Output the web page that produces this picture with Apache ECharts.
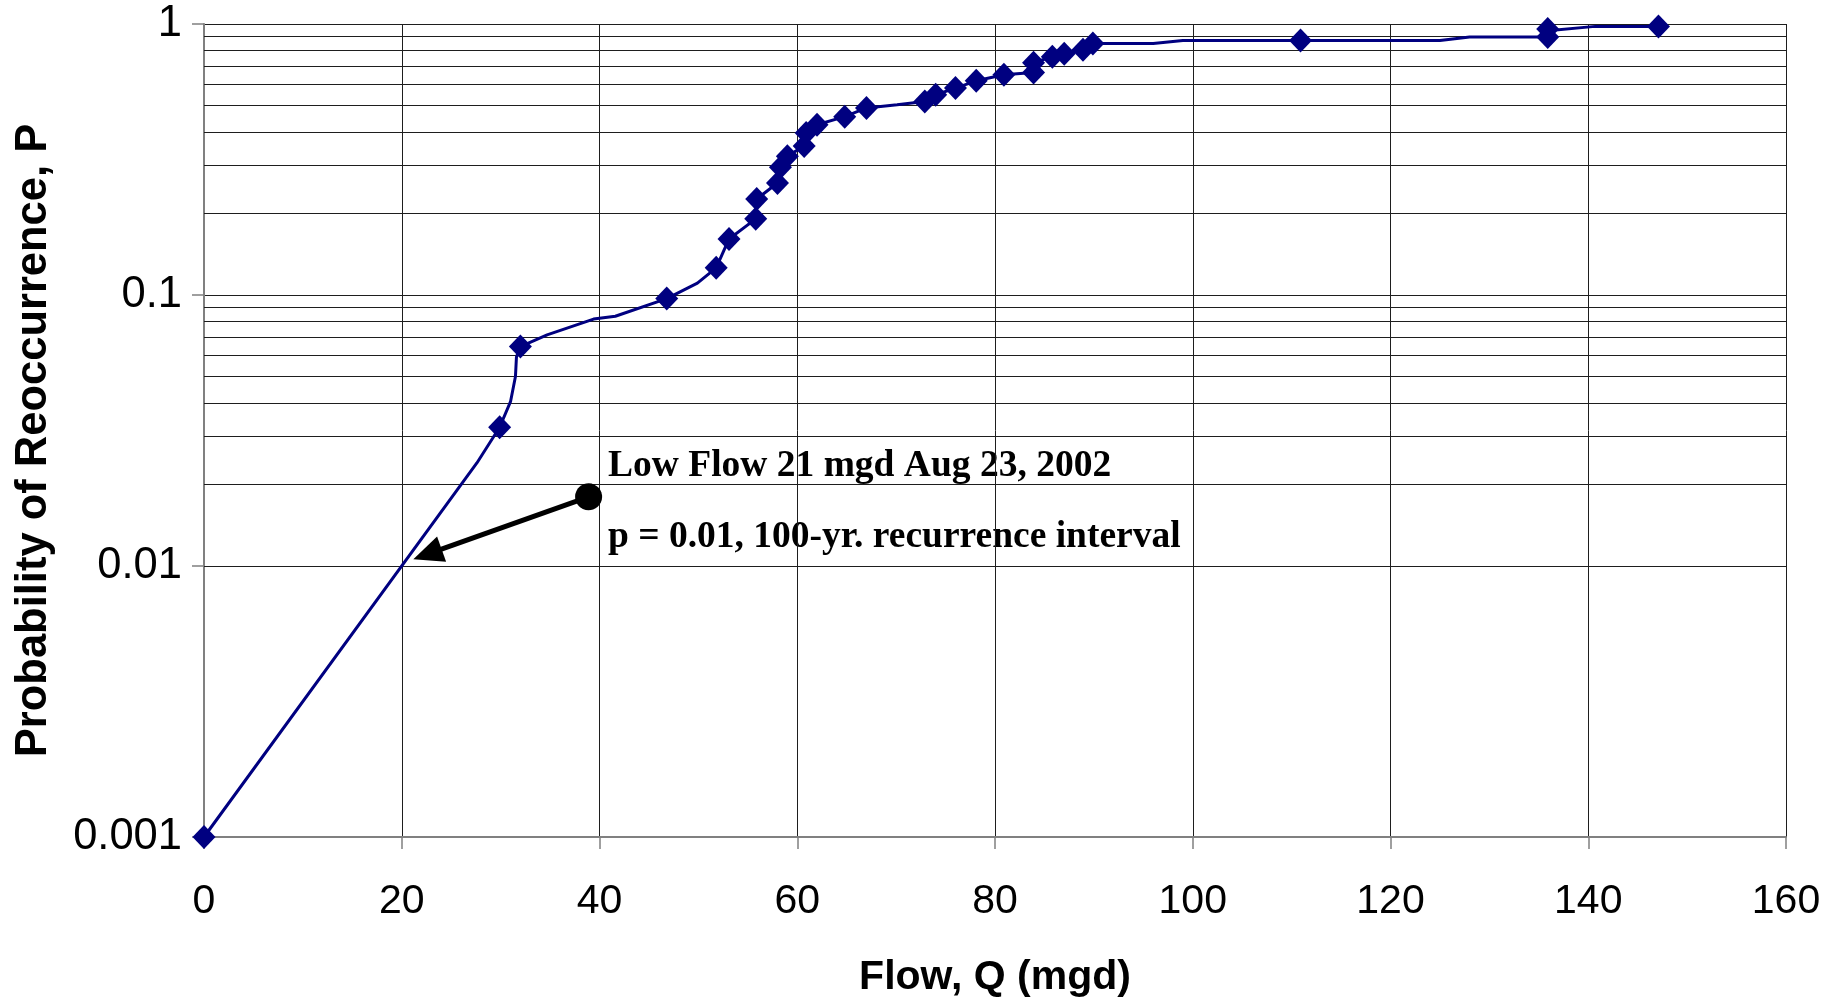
<!DOCTYPE html>
<html>
<head>
<meta charset="utf-8">
<title>Probability of Reoccurrence vs Flow</title>
<script src="https://cdn.jsdelivr.net/npm/echarts@6.0.0/dist/echarts.min.js"></script>
<style>
    html, body { margin: 0; padding: 0; background: #fff; }
    #chart { width: 1835px; height: 1003px; }
</style>
</head>
<body>
<div id="chart"></div>
<script>
// observed flows (mgd) and their probability of reoccurrence
const flowQ = [0, 29.9, 32, 46.8, 51.8, 53.1, 55.8, 55.9, 58, 58.3, 59, 60.7, 60.9, 62, 64.8, 67,
    72.9, 74, 76, 78.1, 80.9, 83.9, 83.9, 85.8, 87, 88.9, 89.9, 110.9, 135.9, 135.9, 147.1];
const probP = [0.001, 0.0325, 0.0645, 0.097, 0.126, 0.161, 0.191, 0.226, 0.259, 0.296, 0.325, 0.355,
    0.396, 0.425, 0.455, 0.49, 0.518, 0.548, 0.58, 0.617, 0.65, 0.662, 0.72, 0.757, 0.776, 0.804,
    0.848, 0.87, 0.895, 0.958, 0.98];

// the drawn curve (its own vertices)
const curveQ = [0, 27.6, 29.9, 31.0, 31.5, 31.6, 32, 34.7, 39.4, 41.6, 46.8, 49.9, 51.8, 53.1, 55.8,
    55.9, 58, 58.3, 59, 60.7, 60.9, 62, 64.8, 67, 70.1, 72.9, 74, 76, 78.1, 80.9, 83.9, 83.9, 85.8,
    87, 88.9, 89.9, 96, 99, 125, 128, 135.9, 135.9, 140.7, 147.1];
const curveP = [0.001, 0.024, 0.0325, 0.0404, 0.05, 0.059, 0.0645, 0.0713, 0.0815, 0.0835, 0.097,
    0.1106, 0.126, 0.161, 0.191, 0.226, 0.259, 0.296, 0.325, 0.355, 0.396, 0.425, 0.455, 0.49, 0.504,
    0.518, 0.548, 0.58, 0.617, 0.65, 0.662, 0.72, 0.757, 0.776, 0.804, 0.848, 0.848, 0.87, 0.87,
    0.895, 0.895, 0.945, 0.98, 0.98];

// minor log gridlines (2..9 of each decade)
const minorGridP = [];
for (const decade of [0.001, 0.01, 0.1]) {
    for (let m = 2; m <= 9; m++) minorGridP.push(+(m * decade).toPrecision(3));
}

const yTickLabels = { 1: "1", 0.1: "0.1", 0.01: "0.01", 0.001: "0.001" };

// annotation: low flow of Aug 23, 2002
const noteLines = ["Low Flow 21 mgd Aug 23, 2002", "p = 0.01, 100-yr. recurrence interval"];
const arrowFrom = [38.9, 0.018];
const arrowTo = [22.6, 0.01106];

const navy = "#000080";
const gridColor = "#1e1e1e";
const axisGray = "#808080";
const sansFont = "'Liberation Sans', Arial, sans-serif";
const serifFont = "'Liberation Serif', 'Times New Roman', serif";

const chart = echarts.init(document.getElementById("chart"));

chart.setOption({
    animation: false,
    backgroundColor: "#fff",
    textStyle: { fontFamily: sansFont },
    grid: { left: 204, right: 49, top: 24, bottom: 166 },
    xAxis: {
        type: "value",
        min: 0,
        max: 160,
        interval: 20,
        name: "Flow, Q (mgd)",
        nameLocation: "middle",
        nameGap: 120,
        nameTextStyle: { fontSize: 41, fontWeight: "bold", color: "#000", fontFamily: sansFont },
        axisLine: { show: true, onZero: false, lineStyle: { color: axisGray, width: 2 } },
        axisTick: { show: true, length: 12, lineStyle: { color: axisGray, width: 1.5 } },
        axisLabel: { fontSize: 41, color: "#000", margin: 44, fontFamily: sansFont },
        splitLine: { show: true, lineStyle: { color: gridColor, width: 1 } },
    },
    yAxis: {
        type: "log",
        logBase: 10,
        min: 0.001,
        max: 1,
        name: "Probability of Reoccurrence, P",
        nameLocation: "middle",
        nameGap: 148,
        nameTextStyle: {
            fontSize: 43.5, fontWeight: "bold", color: "#000", fontFamily: sansFont,
            padding: [0, 20, 0, 0],
        },
        axisLine: { show: true, lineStyle: { color: axisGray, width: 2 } },
        axisTick: { show: true, length: 12, lineStyle: { color: axisGray, width: 1.5 } },
        axisLabel: {
            fontSize: 43.5, color: "#000", margin: 22, fontFamily: sansFont,
            formatter: (v) => yTickLabels[+v.toPrecision(3)] ?? String(v),
        },
        splitLine: { show: true, lineStyle: { color: gridColor, width: 1 } },
    },
    series: [
        {
            // minor gridlines only
            type: "line",
            data: [],
            silent: true,
            markLine: {
                silent: true,
                z: 1,
                symbol: "none",
                label: { show: false },
                lineStyle: { color: gridColor, width: 1, type: "solid" },
                data: minorGridP.map((p) => ({ yAxis: p })),
            },
        },
        {
            type: "line",
            z: 3,
            data: curveQ.map((q, i) => [q, curveP[i]]),
            showSymbol: false,
            symbol: "none",
            smooth: false,
            lineStyle: { color: navy, width: 3 },
        },
        {
            type: "scatter",
            z: 4,
            data: flowQ.map((q, i) => [q, probP[i]]),
            symbol: "diamond",
            symbolSize: [23, 24],
            itemStyle: { color: navy, opacity: 1 },
            markLine: {
                silent: true,
                z: 6,
                label: { show: false },
                lineStyle: { color: "#000", width: 5, type: "solid" },
                itemStyle: { color: "#000" },
                data: [[
                    { coord: arrowFrom, symbol: "circle", symbolSize: 27 },
                    { coord: arrowTo, symbol: "triangle", symbolSize: [27, 30] },
                ]],
            },
        },
    ],
    graphic: [
        {
            type: "text",
            x: 608,
            y: 466,
            style: {
                text: noteLines[0],
                font: "bold 37.5px " + serifFont,
                fill: "#000",
                align: "left",
                verticalAlign: "middle",
            },
        },
        {
            type: "text",
            x: 608,
            y: 537,
            style: {
                text: noteLines[1],
                font: "bold 37.5px " + serifFont,
                fill: "#000",
                align: "left",
                verticalAlign: "middle",
            },
        },
    ],
});

window.addEventListener("resize", () => chart.resize());
</script>
</body>
</html>
